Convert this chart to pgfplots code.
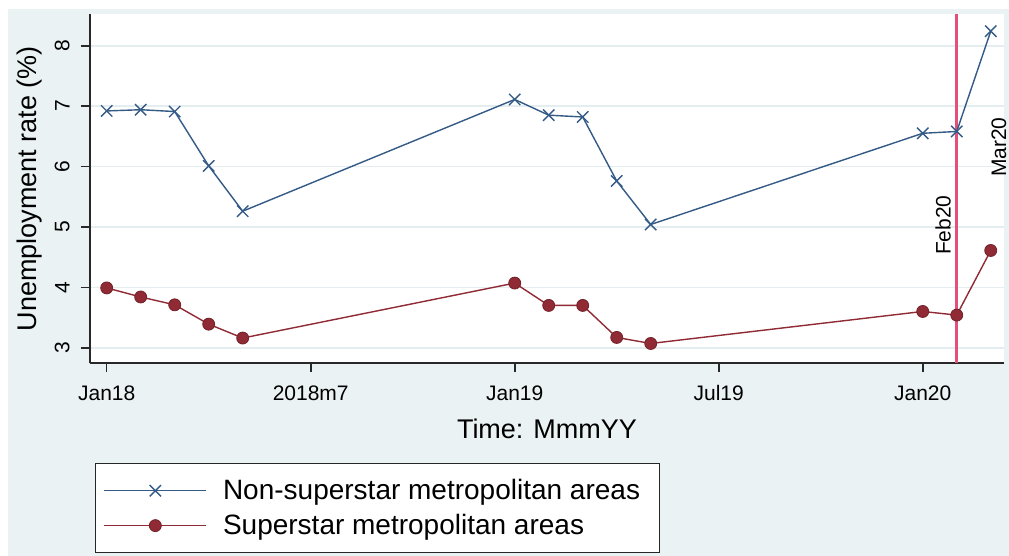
\documentclass[border=0pt]{standalone}
\usepackage{fontspec}
\setmainfont{Liberation Sans}
\usepackage{pgfplots}
\pgfplotsset{compat=1.18}
\definecolor{sbg}{RGB}{234,242,243}
\definecolor{sgrid}{RGB}{228,237,239}
\definecolor{snavy}{RGB}{52,90,134}
\definecolor{smaroon}{RGB}{144,42,52}
\definecolor{sred}{RGB}{228,80,120}
\definecolor{saxis}{RGB}{40,40,40}
\begin{document}
\begin{tikzpicture}
\useasboundingbox (0,0) rectangle (504.5pt,278pt);
\fill[white] (0,0) rectangle (504.5pt,278pt);
\fill[sbg] (4pt,0) rectangle (504.5pt,273.5pt);
\begin{axis}[
  at={(45pt,96.35pt)}, anchor=south west,
  scale only axis, width=457pt, height=174.65pt,
  xmin=-0.491, xmax=26.39, ymin=2.742, ymax=8.525,
  axis lines=left,
  axis line style={-, line width=0.8pt, color=saxis},
  axis background/.style={fill=white},
  xtick={0,6,12,18,24},
  xticklabels={Jan18,2018m7,Jan19,Jul19,Jan20},
  ytick={3,4,5,6,7,8},
  tick align=outside,
  major tick length=4.5pt,
  tick style={line width=0.8pt, color=saxis},
  ymajorgrids,
  grid style={sgrid, line width=0.8pt},
  /pgf/number format/assume math mode=true,
  xticklabel style={font=\fontsize{10.5}{12}\selectfont, inner sep=0pt, anchor=north},
  xticklabel shift=6.5pt,
  yticklabel style={font=\fontsize{10.5}{12}\selectfont, rotate=90, anchor=south, inner sep=0pt},
  yticklabel shift=5.5pt,
  xlabel={Time: MmmYY},
  xlabel style={font=\fontsize{13.5}{16}\selectfont, at={(axis description cs:0.5,-0.189)}, anchor=center, inner sep=0pt},
  ylabel={Unemployment rate (\%)},
  ylabel style={font=\fontsize{13.5}{16}\selectfont, at={(axis description cs:-0.058,0.5)}, anchor=base, inner sep=0pt},
  legend style={at={(axis description cs:0.0055,-0.2854)}, anchor=north west,
    draw=black!85, line width=0.6pt, fill=white,
    font=\fontsize{14}{17}\selectfont,
    inner xsep=4pt, inner ysep=7.75pt, row sep=5.8pt,
    nodes={inner sep=0pt},
    /tikz/every odd column/.append style={column sep=8pt}},
  legend cell align=left,
  legend image code/.code={\draw[mark repeat=2,mark phase=2,#1] plot coordinates {(0pt,0pt) (25.5pt,0pt) (51pt,0pt)};},
  clip=false,
]
\addplot[sred, line width=1.3pt, forget plot] coordinates {(25,2.742) (25,8.525)};
\addplot[snavy, line width=0.7pt, mark=x, mark size=4pt, mark options={line width=0.7pt}] coordinates {
(0,6.92) (1,6.94) (2,6.91) (3,6.01) (4,5.26)
(12,7.11) (13,6.85) (14,6.82) (15,5.76) (16,5.04)
(24,6.55) (25,6.58) (26,8.24)};
\addlegendentry{Non-superstar metropolitan areas\hspace*{5.5pt}}
\addplot[smaroon, line width=0.7pt, mark=*, mark size=3pt, mark options={fill=smaroon, draw=smaroon!80!black, line width=0.4pt}] coordinates {
(0,3.99) (1,3.84) (2,3.71) (3,3.39) (4,3.16)
(12,4.07) (13,3.70) (14,3.70) (15,3.17) (16,3.07)
(24,3.60) (25,3.54) (26,4.61)};
\addlegendentry{Superstar metropolitan areas}
\node[rotate=90, font=\fontsize{10.5}{12}\selectfont, inner sep=0pt] at (axis cs:24.6,5.03) {Feb20};
\node[rotate=90, font=\fontsize{10.5}{12}\selectfont, inner sep=0pt] at (axis cs:26.24,6.32) {Mar20};
\end{axis}
\end{tikzpicture}
\end{document}
